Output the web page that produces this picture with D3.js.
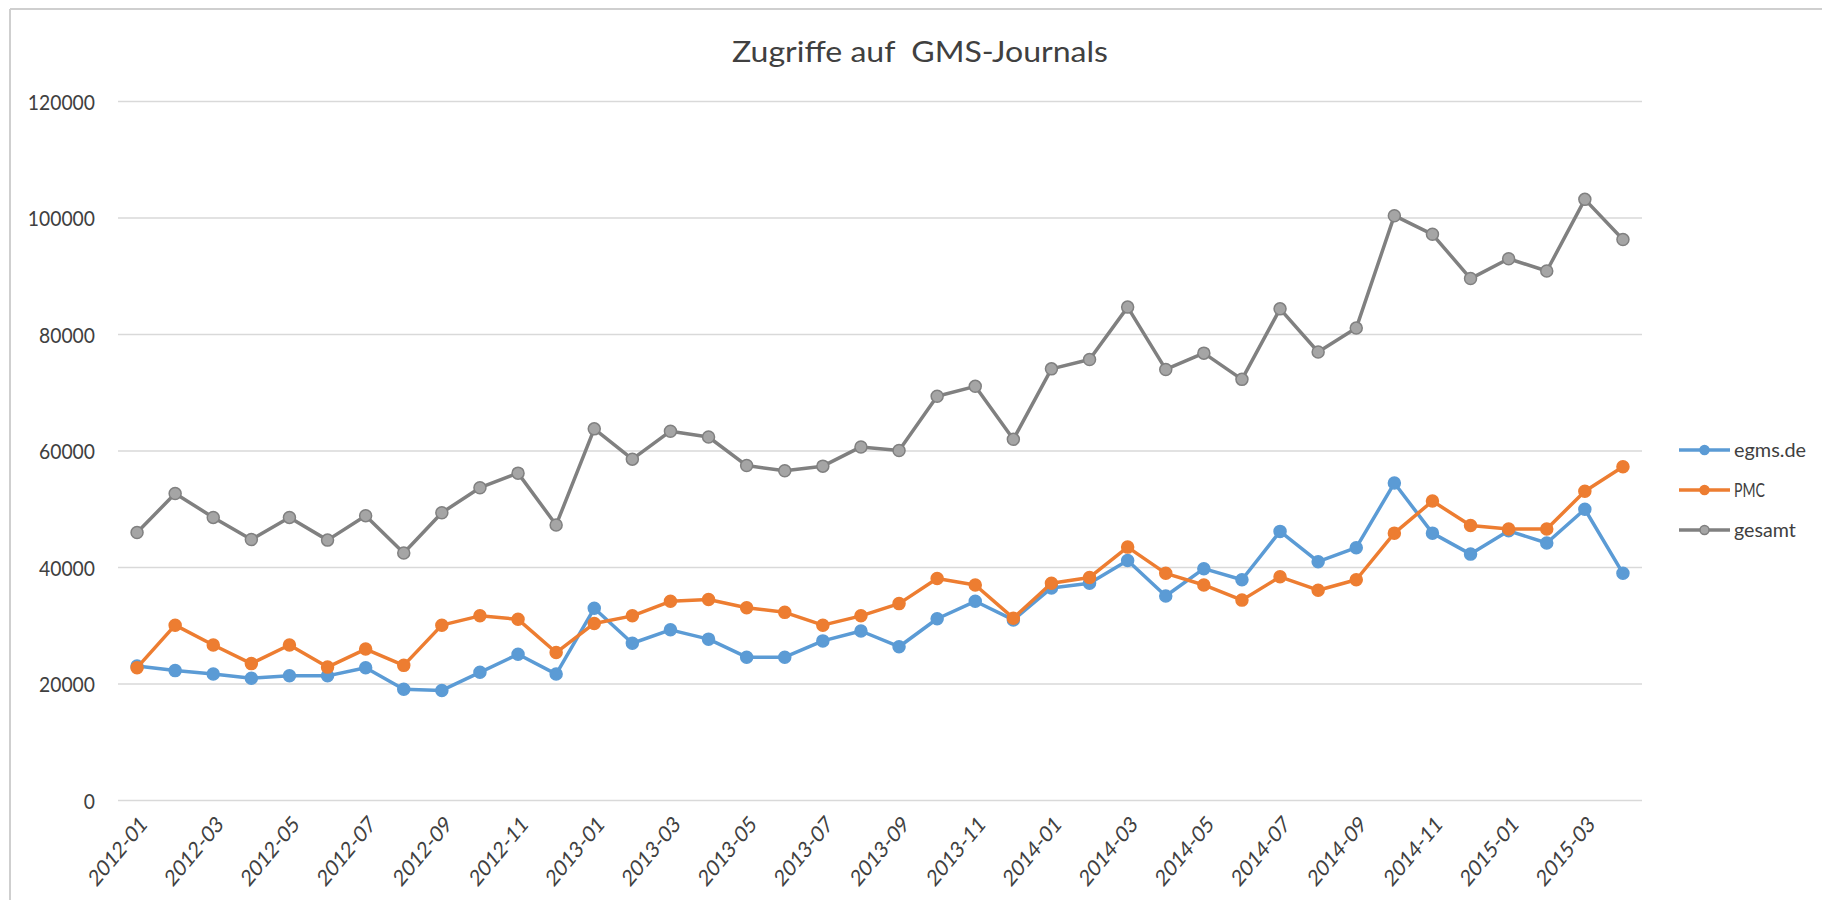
<!DOCTYPE html>
<html lang="de">
<head>
<meta charset="UTF-8">
<script src="https://cdnjs.cloudflare.com/ajax/libs/d3/7.8.5/d3.min.js"></script>
<style>
  body { margin: 0; background: #fff; }
  text { font-family: Lato, "Open Sans", sans-serif; fill: #404040; }
  .grid line { stroke: #d9d9d9; stroke-width: 1.5px; }
  .title { white-space: pre; }
</style>
</head>
<body>
<svg width="1822" height="900"></svg>
<script>
// monthly categories
var months = [
  "2012-01", "2012-02", "2012-03", "2012-04", "2012-05", "2012-06", "2012-07", "2012-08", "2012-09", "2012-10", "2012-11", "2012-12",
  "2013-01", "2013-02", "2013-03", "2013-04", "2013-05", "2013-06", "2013-07", "2013-08", "2013-09", "2013-10", "2013-11", "2013-12",
  "2014-01", "2014-02", "2014-03", "2014-04", "2014-05", "2014-06", "2014-07", "2014-08", "2014-09", "2014-10", "2014-11", "2014-12",
  "2015-01", "2015-02", "2015-03", "2015-04"
];

var egms = [
  23100, 22300, 21700, 21000, 21400, 21400, 22800, 19100, 18900, 22000, 25100, 21700,
  33000, 27000, 29300, 27700, 24600, 24600, 27400, 29100, 26400, 31200, 34200, 31000,
  36500, 37300, 41200, 35100, 39800, 37900, 46200, 41000, 43400, 54500, 45900, 42300,
  46300, 44200, 50000, 39000
];

var pmc = [
  22800, 30100, 26700, 23500, 26700, 22900, 26000, 23200, 30100, 31700, 31100, 25400,
  30400, 31700, 34200, 34500, 33100, 32300, 30100, 31700, 33800, 38100, 37000, 31300,
  37300, 38300, 43500, 39000, 37000, 34400, 38400, 36100, 37900, 45900, 51400, 47200,
  46600, 46600, 53100, 57300
];

var gesamt = [
  46000, 52700, 48600, 44800, 48600, 44700, 48900, 42500, 49400, 53700, 56200, 47300,
  63800, 58600, 63400, 62400, 57500, 56600, 57400, 60700, 60100, 69400, 71100, 62000,
  74100, 75700, 84700, 74000, 76800, 72300, 84400, 77000, 81100, 100400, 97200, 89600,
  93000, 90900, 103200, 96300
];

var yTicks = [0, 20000, 40000, 60000, 80000, 100000, 120000];
var seriesNames = ["egms.de", "PMC", "gesamt"];

var series = [
  { name: seriesNames[0], values: egms,   line: "#5b9bd5", fill: "#5b9bd5", stroke: "#5b9bd5", width: 3.5 },
  { name: seriesNames[1], values: pmc,    line: "#ed7d31", fill: "#ed7d31", stroke: "#ed7d31", width: 3.5 },
  { name: seriesNames[2], values: gesamt, line: "#808080", fill: "#a5a5a5", stroke: "#808080", width: 3.5 }
];

var svg = d3.select("svg");

var plotLeft = 118, plotRight = 1642, plotTop = 101.5, plotBottom = 800.5;

var x = d3.scalePoint().domain(months).range([plotLeft, plotRight]).padding(0.5);
var y = d3.scaleLinear().domain([0, 120000]).range([plotBottom, plotTop]);

// frame of the original chart area
svg.append("line").attr("x1", 10).attr("x2", 1822).attr("y1", 9).attr("y2", 9)
   .attr("stroke", "#cfcfcf").attr("stroke-width", 2);
svg.append("line").attr("x1", 10).attr("x2", 10).attr("y1", 9).attr("y2", 900)
   .attr("stroke", "#cfcfcf").attr("stroke-width", 2);

// title
svg.append("text").attr("class", "title")
   .attr("x", 920).attr("y", 62)
   .attr("text-anchor", "middle")
   .attr("font-size", 29)
   .attr("textLength", 376).attr("lengthAdjust", "spacingAndGlyphs")
   .text("Zugriffe auf  GMS-Journals");

// gridlines
svg.append("g").attr("class", "grid")
   .selectAll("line").data(yTicks).enter()
   .append("line")
   .attr("x1", plotLeft).attr("x2", plotRight)
   .attr("y1", function(d) { return y(d); })
   .attr("y2", function(d) { return y(d); });

// y axis labels
var yAxis = d3.axisLeft(y).tickValues(yTicks).tickSize(0).tickPadding(0)
              .tickFormat(function(d) { return String(d); });
var gy = svg.append("g").attr("transform", "translate(" + 95 + ",0)").call(yAxis);
gy.select(".domain").remove();
gy.selectAll("text")
  .attr("font-size", 19)
  .attr("font-family", "Lato, 'Open Sans', sans-serif")
  .attr("fill", "#404040")
  .attr("dy", "0.36em")
  .attr("transform", "scale(1,1.1)")
  .attr("textLength", function(d) { return String(d).length * 11.2; })
  .attr("lengthAdjust", "spacingAndGlyphs");

// x axis labels (every second month), slightly stretched like the source image
var xLabels = months.filter(function(d, i) { return i % 2 === 0; });
var xAxis = d3.axisBottom(x).tickValues(xLabels).tickSize(0).tickPadding(0);
var gx = svg.append("g").attr("transform", "translate(0," + 820 + ")").call(xAxis);
gx.select(".domain").remove();
gx.selectAll("text")
  .attr("font-size", 19)
  .attr("font-family", "Lato, 'Open Sans', sans-serif")
  .attr("fill", "#404040")
  .attr("text-anchor", "end")
  .attr("y", 0).attr("dy", "0.35em")
  .attr("transform", "translate(6,0) scale(1,1.2) rotate(-45)");

// lines + markers
var line = d3.line()
  .x(function(d, i) { return x(months[i]); })
  .y(function(d) { return y(d); });

series.forEach(function(s) {
  var g = svg.append("g");
  g.append("path")
    .attr("d", line(s.values))
    .attr("fill", "none")
    .attr("stroke", s.line)
    .attr("stroke-width", s.width)
    .attr("stroke-linejoin", "round");
  g.selectAll("circle").data(s.values).enter()
    .append("circle")
    .attr("cx", function(d, i) { return x(months[i]); })
    .attr("cy", function(d) { return y(d); })
    .attr("r", 6)
    .attr("fill", s.fill)
    .attr("stroke", s.stroke)
    .attr("stroke-width", 1.5);
});

// legend
var legend = svg.append("g").selectAll("g").data(series).enter()
  .append("g")
  .attr("transform", function(d, i) { return "translate(1679," + (450 + i * 40) + ")"; });
legend.append("line")
  .attr("x1", 0).attr("x2", 51)
  .attr("stroke", function(d) { return d.line; })
  .attr("stroke-width", 3.5);
legend.append("circle")
  .attr("cx", 25.5).attr("r", 4.5)
  .attr("fill", function(d) { return d.fill; })
  .attr("stroke", function(d) { return d.stroke; })
  .attr("stroke-width", 1.5);
legend.append("text")
  .attr("x", 55).attr("dy", "0.35em")
  .attr("font-size", 19)
  .attr("textLength", function(d) { return d.name.length * 10.3; })
  .attr("lengthAdjust", "spacingAndGlyphs")
  .text(function(d) { return d.name; });
</script>
</body>
</html>
